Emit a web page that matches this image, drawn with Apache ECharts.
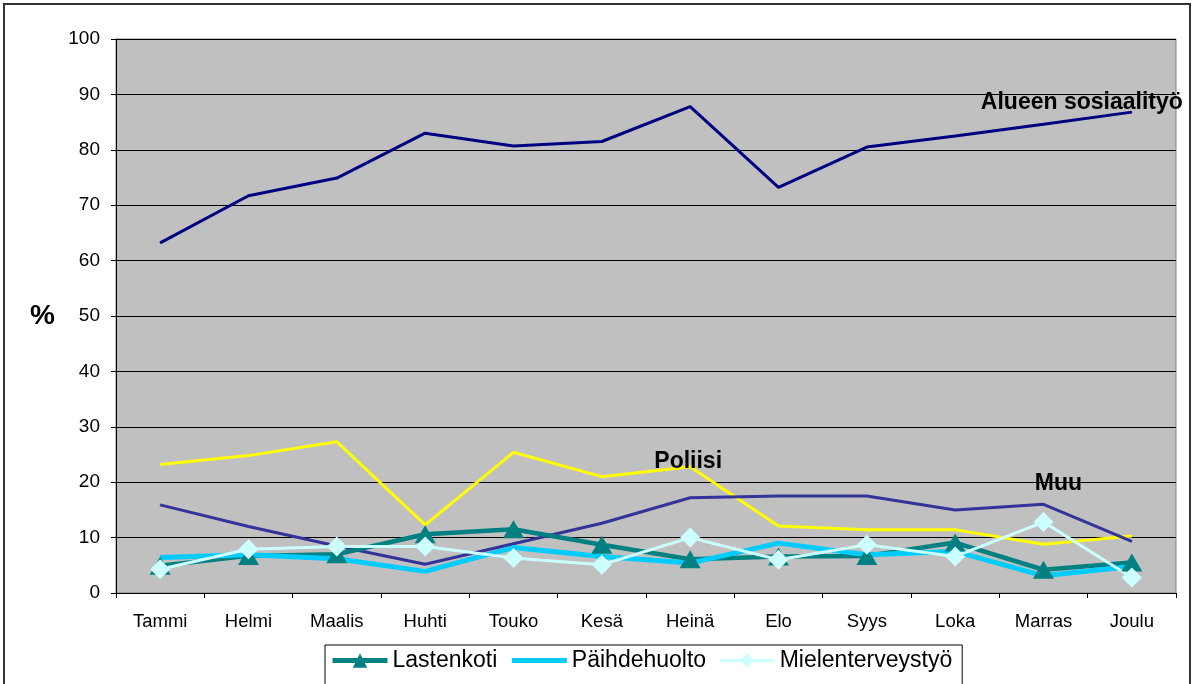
<!DOCTYPE html>
<html><head><meta charset="utf-8">
<script src="https://cdn.jsdelivr.net/npm/echarts@6/dist/echarts.min.js"></script>
<style>html,body{margin:0;padding:0;background:#fff}#c{width:1194px;height:684px}</style>
</head><body><div id="c"></div>
<script>
const months = ['Tammi','Helmi','Maalis','Huhti','Touko','Kesä','Heinä','Elo','Syys','Loka','Marras','Joulu'];
const yTicks = [0,10,20,30,40,50,60,70,80,90,100];
const alueenSosiaalityo = [63.2,71.7,74.9,83.0,80.7,81.5,87.8,73.2,80.5,82.5,84.6,86.8];
const poliisi = [23.2,24.8,27.3,12.3,25.4,21.0,22.8,12.1,11.4,11.4,8.8,10.3];
const muu = [15.9,12.0,8.5,5.2,8.9,12.6,17.2,17.5,17.5,15.0,16.0,9.3];
const lastenkoti = [4.9,6.7,7.0,10.6,11.5,8.7,6.1,6.6,6.7,9.1,4.2,5.5];
const paihdehuolto = [6.4,6.9,6.2,3.9,8.2,6.6,5.4,9.0,6.9,7.5,3.1,4.8];
const mielenterveystyo = [4.3,7.9,8.4,8.4,6.3,5.1,10.0,6.0,8.7,6.6,12.8,2.8];

const FONT = '"Liberation Sans", Arial, sans-serif';
function nameLabel(idx, offset){
  return {show:true, position:'inside', offset:offset, fontFamily:FONT, fontWeight:'bold', fontSize:23, color:'#000',
    formatter: p => p.dataIndex === idx ? p.seriesName : ''};
}
const chart = echarts.init(document.getElementById('c'));
chart.setOption({
  animation:false,
  backgroundColor:'#fff',
  graphic:[{type:'rect', shape:{x:4,y:4,width:1186,height:720}, style:{fill:'none', stroke:'#333', lineWidth:2}, silent:true}],
  grid:{left:116, right:18, top:39, bottom:91, show:true, backgroundColor:'#C0C0C0', borderColor:'#808080', borderWidth:1},
  legend:{
    data:[
      {name:'Lastenkoti', lineStyle:{width:5}},
      {name:'Päihdehuolto', itemStyle:{opacity:0}, lineStyle:{width:5}},
      {name:'Mielenterveystyö', lineStyle:{width:3}}
    ],
    left:325, top:645, itemGap:12, itemWidth:55, itemHeight:18,
    borderColor:'#000', borderWidth:1, padding:[4,10,14,5],
    textStyle:{fontFamily:FONT, fontSize:23, color:'#000'}
  },
  xAxis:{type:'category', data:months, boundaryGap:true,
    axisLine:{lineStyle:{color:'#000', width:1}},
    axisTick:{show:true, length:5, lineStyle:{color:'#000'}},
    axisLabel:{margin:19, fontFamily:FONT, fontSize:18.5, color:'#000'},
    splitLine:{show:false}},
  yAxis:{type:'value', min:yTicks[0], max:yTicks[yTicks.length-1], interval:10,
    name:'%', nameLocation:'middle', nameGap:61, nameRotate:0,
    nameTextStyle:{fontFamily:FONT, fontSize:28, fontWeight:'bold', color:'#000', padding:[4,0,0,0]},
    axisLine:{show:true, lineStyle:{color:'#000', width:1}},
    axisTick:{show:true, length:5, lineStyle:{color:'#000'}},
    axisLabel:{margin:16, fontFamily:FONT, fontSize:19, color:'#000'},
    splitLine:{show:true, lineStyle:{color:'#000', width:1}}},
  series:[
    {name:'Alueen sosiaalityö', type:'line', data:alueenSosiaalityo, symbol:'circle', symbolSize:1,
      lineStyle:{color:'#000080', width:3}, itemStyle:{color:'#000080'}, label:nameLabel(11,[-50,-9])},
    {name:'Poliisi', type:'line', data:poliisi, symbol:'circle', symbolSize:1,
      lineStyle:{color:'#FFFF00', width:3}, itemStyle:{color:'#FFFF00'}, label:nameLabel(6,[-2,-5])},
    {name:'Muu', type:'line', data:muu, symbol:'circle', symbolSize:1,
      lineStyle:{color:'#333399', width:3}, itemStyle:{color:'#333399'}, label:nameLabel(10,[15,-21])},
    {name:'Lastenkoti', type:'line', data:lastenkoti, symbol:'triangle', symbolSize:[21,18],
      lineStyle:{color:'#008080', width:4.5}, itemStyle:{color:'#008080'}},
    {name:'Päihdehuolto', type:'line', data:paihdehuolto, symbol:'none',
      lineStyle:{color:'#00CCFF', width:5}, itemStyle:{color:'#00CCFF'}},
    {name:'Mielenterveystyö', type:'line', data:mielenterveystyo, symbol:'diamond', symbolSize:[20,20],
      lineStyle:{color:'#CCFFFF', width:3}, itemStyle:{color:'#CCFFFF'}}
  ]
});
</script></body></html>
